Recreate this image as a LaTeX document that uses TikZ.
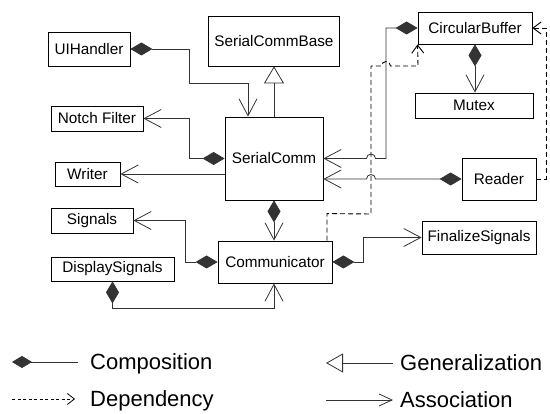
\documentclass[tikz,border=0pt]{standalone}
\usepackage{fontspec}
\setmainfont{Liberation Sans}
\usetikzlibrary{arrows.meta}
\begin{document}
\begin{tikzpicture}[x=1pt,y=-1pt,
  umlbox/.style={draw=black,line width=0.8pt,inner sep=0pt,font=\fontsize{15.3}{18}\selectfont},
  conn/.style={draw=black!80,line width=0.8pt},
  compassoc/.style={conn,{Diamond[length=22pt,width=13pt]}-{Straight Barb[length=17pt,width=18pt]}},
  assocline/.style={conn,-{Straight Barb[length=17pt,width=18pt]}},
  genline/.style={conn,-{Triangle[open,length=17pt,width=20pt]}},
  depline/.style={draw=black,line width=0.9pt,dash pattern=on 5pt off 3pt,-{Straight Barb[length=8pt,width=12pt]}},
  legtext/.style={anchor=base west,inner sep=0pt,font=\fontsize{22}{26}\selectfont},
]
\useasboundingbox (0,0) rectangle (550,414);

% boxes
\node[umlbox,minimum width=131pt,minimum height=50pt] (SCB) at (274,41) {SerialCommBase};
\node[umlbox,minimum width=82pt,minimum height=34pt] (UI) at (89,49) {UIHandler};
\node[umlbox,minimum width=92pt,minimum height=25pt] (NF) at (97,118.5) {Notch Filter};
\node[umlbox,minimum width=98pt,minimum height=83pt] (SC) at (274,158.5) {SerialComm};
\node[umlbox,minimum width=65pt,minimum height=24pt] (W) at (87.5,174) {Writer};
\node[umlbox,minimum width=82pt,minimum height=25pt] (Sig) at (92,220.5) {Signals};
\node[umlbox,minimum width=123pt,minimum height=24pt] (DS) at (112.5,269) {DisplaySignals};
\node[umlbox,minimum width=114pt,minimum height=42pt] (Com) at (275,262) {Communicator};
\node[umlbox,minimum width=114pt,minimum height=32pt] (CB) at (475,28) {CircularBuffer};
\node[umlbox,minimum width=118pt,minimum height=25pt] (Mu) at (474,105.5) {Mutex};
\node[umlbox,minimum width=74pt,minimum height=42pt] (Rd) at (499,179) {Reader};
\node[umlbox,minimum width=114pt,minimum height=33pt] (FS) at (479,237.5) {FinalizeSignals};

% connectors
\draw[compassoc] (UI.east) -| (189,83) -| ([xshift=-26pt]SC.north);
\draw[genline] (SC.north) -- (SC.north |- SCB.south);
\draw[compassoc] (SC.west) -- (189,158.5) |- (NF.east);
\draw[assocline] (SC.west |- W.east) -- (W.east);
\draw[compassoc] (SC.south) -- (SC.south |- Com.north);
\draw[compassoc] (Com.west) -- (185,262) |- (Sig.east);
\draw[compassoc] (DS.south) -- ++(0,27) -| ([xshift=-1pt]Com.south);
\draw[compassoc] (Com.east) -- (363,262) |- (FS.west);
\draw[compassoc] (CB.west) -- (386,28) -- (386,158.5) -- (375.5,158.5)
   arc[start angle=0,end angle=180,radius=4.5pt] -- (SC.east);
\draw[compassoc] (Rd.west) -- (375.5,179)
   arc[start angle=0,end angle=180,radius=4.5pt] -- (SC.east |- Rd.west);
\draw[compassoc] (CB.south) -- (CB.south |- Mu.north);
\draw[depline] ([xshift=52pt]Com.north) -- ++(0,-27) -- (371,214) -- (371,66) -- (381.5,66)
   arc[start angle=180,end angle=0,radius=4.5pt] -- (418,66) -- (CB.south west);
\draw[depline] (Rd.east) -- (546,179) |- (CB.east);

% legend
\coordinate (l1a) at (12,362); \coordinate (l1b) at (78,362);
\draw[conn,{Diamond[length=20pt,width=12pt]}-] (l1a) -- (l1b);
\node[legtext] (l1t) at (90,369.5) {Composition};
\coordinate (l2a) at (12,399); \coordinate (l2b) at (75,399);
\draw[draw=black,line width=0.8pt,dash pattern=on 3pt off 2.5pt,-{Straight Barb[length=7pt,width=11pt]}] (l2a) -- (l2b);
\node[legtext] (l2t) at (90,406.5) {Dependency};
\coordinate (l3a) at (393,363); \coordinate (l3b) at (326,363);
\draw[conn,-{Triangle[open,length=17pt,width=19pt]}] (l3a) -- (l3b);
\node[legtext] (l3t) at (400,370.5) {Generalization};
\coordinate (l4a) at (326,400); \coordinate (l4b) at (393,400);
\draw[conn,-{Straight Barb[length=13pt,width=12pt]}] (l4a) -- (l4b);
\node[legtext] (l4t) at (400,407.5) {Association};
\end{tikzpicture}
\end{document}
